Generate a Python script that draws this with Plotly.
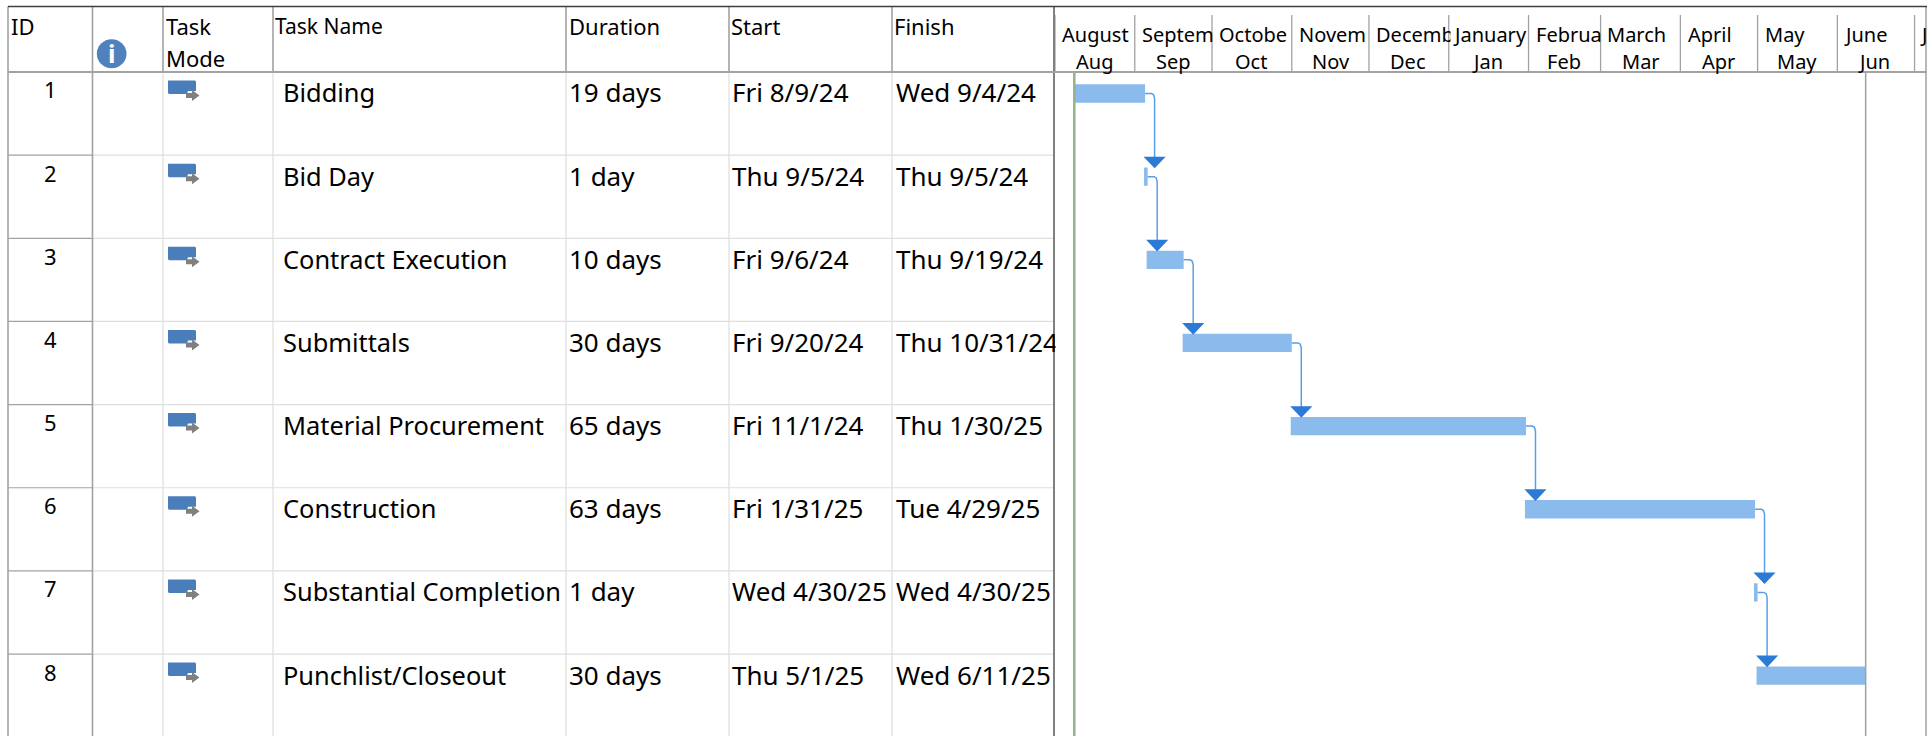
import pandas as pd
import plotly.graph_objects as go

W, H = 1927, 736

# ---- data ----
task_ids = [1, 2, 3, 4, 5, 6, 7, 8]
task_names = ["Bidding", "Bid Day", "Contract Execution", "Submittals", "Material Procurement",
              "Construction", "Substantial Completion", "Punchlist/Closeout"]
durations = ["19 days", "1 day", "10 days", "30 days", "65 days", "63 days", "1 day", "30 days"]
start_labels = ["Fri 8/9/24", "Thu 9/5/24", "Fri 9/6/24", "Fri 9/20/24", "Fri 11/1/24",
                "Fri 1/31/25", "Wed 4/30/25", "Thu 5/1/25"]
finish_labels = ["Wed 9/4/24", "Thu 9/5/24", "Thu 9/19/24", "Thu 10/31/24", "Thu 1/30/25",
                 "Tue 4/29/25", "Wed 4/30/25", "Wed 6/11/25"]
start_dates = ["2024-08-09", "2024-09-05", "2024-09-06", "2024-09-20", "2024-11-01",
               "2025-01-31", "2025-04-30", "2025-05-01"]
finish_dates = ["2024-09-04", "2024-09-05", "2024-09-19", "2024-10-31", "2025-01-30",
                "2025-04-29", "2025-04-30", "2025-06-11"]
month_starts = ["2024-08-01", "2024-09-01", "2024-10-01", "2024-11-01", "2024-12-01", "2025-01-01",
                "2025-02-01", "2025-03-01", "2025-04-01", "2025-05-01", "2025-06-01", "2025-07-01"]
month_top = ["August", "Septem", "Octobe", "Novem", "Decemb", "January", "Februa", "March",
             "April", "May", "June", "J"]
month_bottom = ["Aug", "Sep", "Oct", "Nov", "Dec", "Jan", "Feb", "Mar", "Apr", "May", "Jun", ""]
today_date = "2024-08-08 12:00"
project_end_date = "2025-06-12"
x_range = ["2024-08-01", "2025-07-05 20:00"]

# ---- style / layout ----
top_shift = [7, 7, 7, 7, 7, 4, 7, 6, 8, 7, 7, 5]
bottom_shift = [39, 39, 39, 39, 39, 39, 35, 40, 38, 39, 37, 39]
FONT = "Noto Sans"
BAR = "#8BBBED"
LINK = "#5A9FE6"
ARROW = "#2A7AD6"
DARK = "#A2A2A2"
LIGHT = "#DEDEDE"
HEAD_B = 72
ROW_H = 83.15
ROW1_C = 93.5
GANTT_L = 1055
col_x = [8, 92.5, 163, 273, 566, 729, 892, 1054]


def px(x):
    return x / W


def py(y):
    return 1 - y / H


y_top = 1 - (ROW1_C - HEAD_B) / ROW_H
y_bot = 1 + (H - ROW1_C) / ROW_H

lead = pd.Timedelta(days=0.4)
s = pd.to_datetime(start_dates) - lead
f = pd.to_datetime(finish_dates) + pd.Timedelta(days=1)
ms = [(b - a).total_seconds() * 1000 for a, b in zip(s, f)]
BAR_W = 0.22

fig = go.Figure()
fig.add_trace(go.Bar(y=task_ids, base=[d.strftime("%Y-%m-%d %H:%M") for d in s], x=ms, orientation="h", width=BAR_W,
                     marker=dict(color=BAR, line=dict(width=0)), name="Tasks"))

# connectors and arrowheads derived from task dates
lx, ly, ax, ay = [], [], [], []
drop = pd.Timedelta(days=3.7)
for i in range(len(task_ids) - 1):
    e = f[i]
    yy = task_ids[i]
    tip = task_ids[i + 1] - BAR_W / 2 + 0.01
    lx += [e, e + drop - pd.Timedelta(days=1.2), e + drop - pd.Timedelta(days=0.4), e + drop, e + drop, None]
    ly += [yy, yy, yy + 0.015, yy + 0.06, tip - 0.06, None]
    ax += [e + drop - pd.Timedelta(days=4.3), e + drop + pd.Timedelta(days=4.3), e + drop, e + drop - pd.Timedelta(days=4.3), None]
    ay += [tip - 0.14, tip - 0.14, tip, tip - 0.14, None]
fig.add_trace(go.Scatter(x=lx, y=ly, mode="lines", line=dict(color=LINK, width=1.5), name="Links", connectgaps=False))
fig.add_trace(go.Scatter(x=ax, y=ay, mode="lines", fill="toself", fillcolor=ARROW, line=dict(color=ARROW, width=0), name="Arrows"))

shapes = []


def line(x0, y0, x1, y1, color, width=1):
    shapes.append(dict(type="line", xref="paper", yref="paper", x0=px(x0), x1=px(x1), y0=py(y0), y1=py(y1),
                       line=dict(color=color, width=width), layer="below"))


# row lines
for k in range(1, len(task_ids)):
    yy = HEAD_B + ROW_H * k
    line(93, yy, 1054, yy, LIGHT, 1.2)
    line(8, yy, 93, yy, DARK, 1.2)
# column lines
for x in col_x[2:7]:
    line(x, HEAD_B, x, H, LIGHT, 1.2)
    line(x, 6.5, x, HEAD_B, DARK, 1.6)
line(col_x[0], 6.5, col_x[0], H, DARK, 1.6)
line(col_x[1], 6.5, col_x[1], H, DARK, 1.6)
line(col_x[7], 6.5, col_x[7], H, "#808080", 2)
line(1926, 6.5, 1926, H, DARK, 1.5)
line(8, 6.5, W, 6.5, "#404040", 1.5)
line(8, HEAD_B, W, HEAD_B, DARK, 2)

# month ticks in the timeline header
for m in month_starts:
    shapes.append(dict(type="line", xref="x", yref="paper", x0=m, x1=m, y0=py(HEAD_B), y1=py(15),
                       line=dict(color=DARK, width=1.3), layer="below"))
# today and project finish lines
shapes.append(dict(type="line", xref="x", yref="paper", x0=today_date, x1=today_date, y0=py(HEAD_B), y1=0,
                   line=dict(color="#93B58E", width=2.5)))
shapes.append(dict(type="line", xref="x", yref="paper", x0=project_end_date, x1=project_end_date, y0=py(HEAD_B), y1=0,
                   line=dict(color="#A0A0A0", width=1.5)))


def poly(points, color):
    d = "M" + " L".join(f"{px(a):.5f},{py(b):.5f}" for a, b in points) + " Z"
    shapes.append(dict(type="path", xref="paper", yref="paper", path=d, fillcolor=color, line=dict(width=0)))


# task mode icons
for k in range(len(task_ids)):
    t = HEAD_B + ROW_H * k
    poly([(168, t + 8.5), (195, t + 8.5), (196, t + 9.5), (196, t + 19), (188, t + 19), (187, t + 22), (169, t + 22), (168, t + 21)], "#4A7EBB")
    poly([(186, t + 21), (192, t + 21), (192, t + 18), (199.5, t + 23.5), (192, t + 29), (192, t + 26), (186, t + 26)], "#808080")

# info circle
shapes.append(dict(type="circle", xref="paper", yref="paper", x0=px(96.8), x1=px(126.5), y0=py(68.3), y1=py(39.3),
                   fillcolor="#4F81BD", line=dict(width=0)))

ann = []


def text(x, y, t, size, anchor="left", color="#000000", xref="paper", xshift=0):
    ann.append(dict(x=x if xref != "paper" else px(x), y=py(y), xref=xref, yref="paper", text=t, showarrow=False,
                    xanchor=anchor, yanchor="middle", xshift=xshift, borderpad=0, borderwidth=0,
                    font=dict(family=FONT, size=size, color=color), align="left"))


def cover(x, y, w, h, xref="paper", xshift=0):
    ann.append(dict(x=x if xref != "paper" else px(x), y=py(y), xref=xref, yref="paper", text=" ", showarrow=False,
                    xanchor="left", yanchor="middle", xshift=xshift, width=w, height=h, bgcolor="#FFFFFF", borderpad=0))


HS = 22
TS = 26
MS = 20
text(11, 26, "ID", HS)
text(111.7, 53.5, "<b>i</b>", 25, "center", "#FFFFFF")
text(166, 26, "Task", HS)
text(166, 58, "Mode", HS)
text(275, 26, "Task Name", 21)
text(569, 26, "Duration", HS)
text(731, 26, "Start", HS)
text(894, 26, "Finish", HS)

for k, tid in enumerate(task_ids):
    yc = ROW1_C + ROW_H * k
    text(50, yc - 4, str(tid), HS, "center")
    text(283, yc - 1, task_names[k], 25.4)
    text(569, yc - 1, durations[k], TS)
    text(732, yc - 1, start_labels[k], TS)
    text(896, yc - 1, finish_labels[k], TS)
# the Finish column clips its overflowing text at the divider
cover(1055, ROW1_C + ROW_H * 3 - 1, 10, 34)

for i, (m, a, b) in enumerate(zip(month_starts, month_top, month_bottom)):
    if i:
        # each timeline column clips the label of the one before it
        cover(m, 34, 6, 24, xref="x", xshift=1)
    text(m, 34, a, MS, "left", xref="x", xshift=top_shift[i])
    if b:
        text(m, 62, b, MS, "center", xref="x", xshift=bottom_shift[i])

fig.update_layout(
    width=W, height=H, margin=dict(l=0, r=0, t=0, b=0), paper_bgcolor="white", plot_bgcolor="white",
    showlegend=False, barmode="overlay", shapes=shapes, annotations=ann,
    xaxis=dict(type="date", domain=[GANTT_L / W, 1], range=x_range, showgrid=False, zeroline=False,
               showticklabels=False, ticks="", showline=False),
    yaxis=dict(domain=[0, 1 - HEAD_B / H], range=[y_bot, y_top], showgrid=False, zeroline=False,
               showticklabels=False, ticks="", showline=False),
)
fig.write_html("out.html", post_script="document.body.style.margin='0';", config={"displayModeBar": False})
